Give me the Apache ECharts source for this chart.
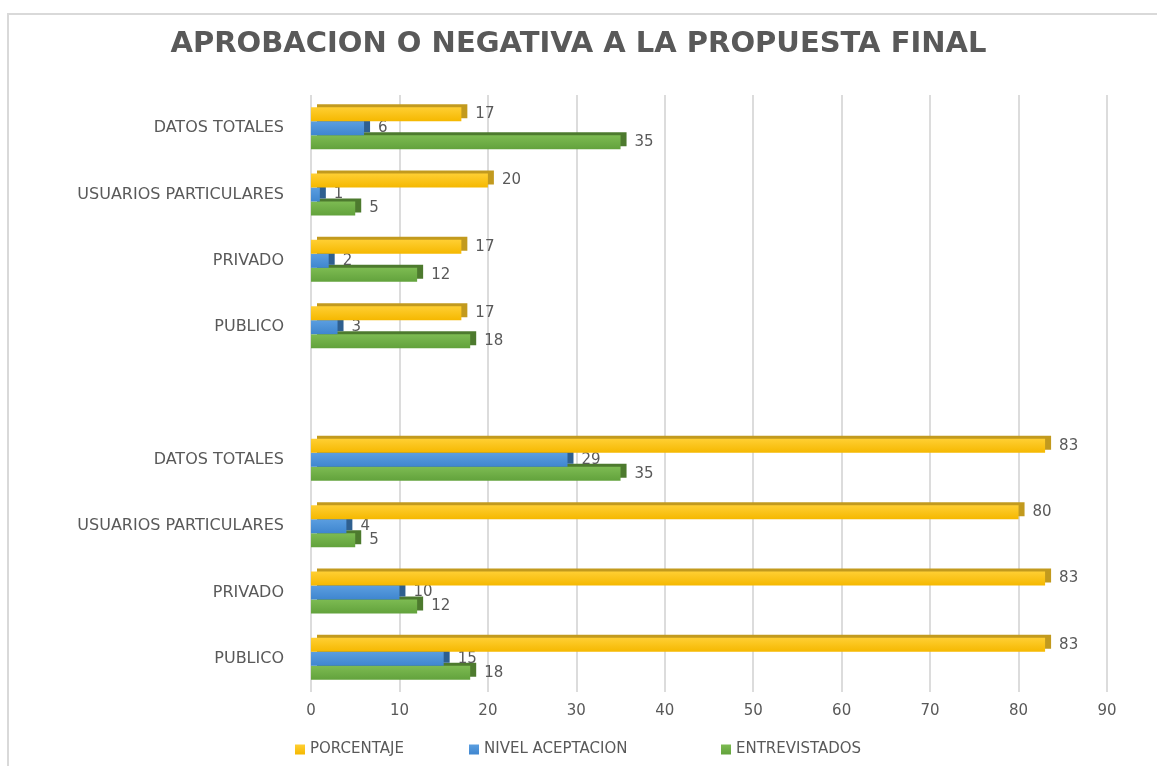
<!DOCTYPE html>
<html>
<head>
<meta charset="utf-8">
<script src="https://cdn.jsdelivr.net/npm/echarts@6/dist/echarts.min.js"></script>
<style>html,body{margin:0;padding:0;background:#fff;}#chart{width:1157px;height:766px;}</style>
</head>
<body>
<div id="chart"></div>
<script>
// Categories from bottom to top (blank separator between the two groups)
var categories = ['PUBLICO', 'PRIVADO', 'USUARIOS PARTICULARES', 'DATOS TOTALES', '', 'PUBLICO', 'PRIVADO', 'USUARIOS PARTICULARES', 'DATOS TOTALES'];
var porcentaje = [83, 83, 80, 83, null, 17, 17, 20, 17];
var nivelAceptacion = [15, 10, 4, 29, null, 3, 2, 1, 6];
var entrevistados = [18, 12, 5, 35, null, 18, 12, 5, 35];
var seriesNames = ['PORCENTAJE', 'NIVEL ACEPTACION', 'ENTREVISTADOS'];
var xTicks = {min: 0, max: 90, interval: 10};

var FONT = 'DejaVu Sans';
var TXT = '#595959';

function barSeries(name, data, front, light, dark, z) {
  return {
    name: name,
    type: 'bar',
    data: data,
    barWidth: 14,
    barGap: '0%',
    z: z,
    itemStyle: {
      color: new echarts.graphic.LinearGradient(0, 0, 0, 1, [
        {offset: 0, color: light},
        {offset: 1, color: front}
      ]),
      shadowColor: dark,
      shadowOffsetX: 6,
      shadowOffsetY: -3,
      shadowBlur: 0
    },
    label: {
      show: true,
      position: 'right',
      distance: 14,
      color: TXT,
      fontFamily: FONT,
      fontSize: 15
    }
  };
}

function legendAt(name, left) {
  return {
    data: [name],
    left: left,
    bottom: 4,
    itemWidth: 10,
    itemHeight: 10,
    icon: 'rect',
    textStyle: {color: TXT, fontFamily: FONT, fontSize: 15}
  };
}

var chart = echarts.init(document.getElementById('chart'));
chart.setOption({
  animation: false,
  backgroundColor: '#ffffff',
  color: ['#ffc000', '#4a90d9', '#70ad47'],
  graphic: [{
    type: 'rect',
    shape: {x: 8, y: 14, width: 1200, height: 800},
    style: {fill: 'none', stroke: '#d9d9d9', lineWidth: 2},
    z: -10
  }],
  title: {
    text: 'APROBACION O NEGATIVA A LA PROPUESTA FINAL',
    left: 'center',
    top: 25,
    textStyle: {color: TXT, fontFamily: FONT, fontWeight: 'bold', fontSize: 29}
  },
  legend: [
    legendAt(seriesNames[0], 290),
    legendAt(seriesNames[1], 464),
    legendAt(seriesNames[2], 716)
  ],
  grid: {left: 311, right: 50, top: 95, bottom: 74, containLabel: false},
  xAxis: {
    type: 'value',
    min: xTicks.min,
    max: xTicks.max,
    interval: xTicks.interval,
    axisLine: {show: false},
    axisTick: {show: false},
    axisLabel: {color: TXT, fontFamily: FONT, fontSize: 15, margin: 12},
    splitLine: {show: true, lineStyle: {color: '#dcdcdc', width: 2}}
  },
  yAxis: {
    type: 'category',
    data: categories,
    axisLine: {show: false},
    axisTick: {show: false},
    axisLabel: {color: TXT, fontFamily: FONT, fontSize: 16, margin: 27}
  },
  series: [
    barSeries(seriesNames[0], porcentaje, '#f5b800', '#ffcf33', '#c29a1e', 4),
    barSeries(seriesNames[1], nivelAceptacion, '#3f86cf', '#5b9ee0', '#2f5f8f', 3),
    barSeries(seriesNames[2], entrevistados, '#62a23c', '#7dbb52', '#4d7a2e', 2)
  ]
});
</script>
</body>
</html>
